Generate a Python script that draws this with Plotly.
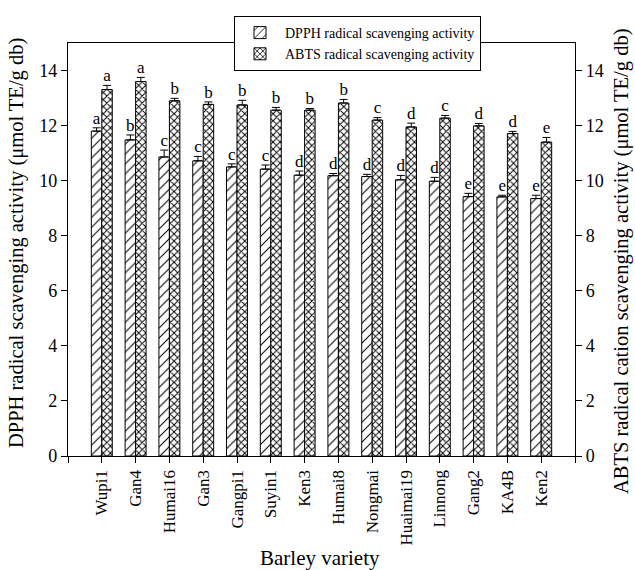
import plotly.graph_objects as go

varieties = ["Wupi1", "Gan4", "Humai16", "Gan3", "Gangpi1", "Suyin1", "Ken3", "Humai8",
             "Nongmai", "Huaimai19", "Linnong", "Gang2", "KA4B", "Ken2"]
dpph = [11.80, 11.48, 10.86, 10.72, 10.50, 10.42, 10.20, 10.18, 10.15, 10.03, 9.98, 9.42, 9.41, 9.35]
dpph_err = [0.12, 0.18, 0.25, 0.16, 0.11, 0.15, 0.15, 0.08, 0.08, 0.16, 0.14, 0.12, 0.06, 0.12]
abts = [13.31, 13.60, 12.90, 12.77, 12.75, 12.56, 12.56, 12.82, 12.20, 11.95, 12.27, 11.99, 11.71, 11.40]
abts_err = [0.15, 0.15, 0.09, 0.09, 0.17, 0.10, 0.06, 0.13, 0.09, 0.14, 0.10, 0.09, 0.08, 0.17]
dpph_letters = ["a", "b", "c", "c", "c", "c", "d", "d", "d", "d", "d", "e", "e", "e"]
abts_letters = ["a", "a", "b", "b", "b", "b", "b", "b", "c", "d", "c", "d", "d", "e"]
yticks = [0, 2, 4, 6, 8, 10, 12, 14]

FONT = "Liberation Serif"
xs = list(range(len(varieties)))
bw = 0.31

fig = go.Figure()
fig.add_trace(go.Bar(
    x=xs, y=dpph, name="DPPH radical scavenging activity",
    marker=dict(color="white", line=dict(color="black", width=1),
                pattern=dict(shape="/", fgcolor="black", bgcolor="white", size=7, solidity=0.15)),
    error_y=dict(type="data", symmetric=False, array=dpph_err, arrayminus=[0]*len(dpph),
                 color="black", thickness=1, width=4),
))
fig.add_trace(go.Bar(
    x=xs, y=abts, name="ABTS radical scavenging activity",
    marker=dict(color="white", line=dict(color="black", width=1),
                pattern=dict(shape="x", fgcolor="black", bgcolor="white", size=5, solidity=0.35)),
    error_y=dict(type="data", symmetric=False, array=abts_err, arrayminus=[0]*len(abts),
                 color="black", thickness=1, width=4),
))
fig.add_trace(go.Scatter(
    x=[i - bw / 2 for i in xs], y=[v + e for v, e in zip(dpph, dpph_err)],
    mode="text", text=dpph_letters, textposition="top center",
    textfont=dict(family=FONT, size=17, color="black"), showlegend=False, hoverinfo="skip"))
fig.add_trace(go.Scatter(
    x=[i + bw / 2 for i in xs], y=[v + e for v, e in zip(abts, abts_err)],
    mode="text", text=abts_letters, textposition="top center",
    textfont=dict(family=FONT, size=17, color="black"), showlegend=False, hoverinfo="skip"))
fig.add_trace(go.Scatter(x=[0], y=[0], yaxis="y2", mode="markers",
                         marker=dict(opacity=0), showlegend=False, hoverinfo="skip"))

tickvals = [-1] + xs + [14]
ticktext = [""] + varieties + [""]

# plot area in page pixels (page body margin removed below)
pl, pr, pt, pb = 68, 575, 43, 456
W, H = 635, 570
def px_to_paper_x(px):
    return (px - pl) / (pr - pl)
def px_to_paper_y(py):
    return (pb - py) / (pb - pt)

title_font = dict(family=FONT, size=20.5, color="black")

fig.update_layout(
    template="none",
    width=W, height=H,
    margin=dict(l=pl, r=W - pr, t=pt, b=H - pb, autoexpand=False),
    paper_bgcolor="white", plot_bgcolor="white",
    font=dict(family=FONT, size=17, color="black"),
    barmode="group", bargap=0.38, bargroupgap=0,
    xaxis=dict(range=[-1, 14], tickvals=tickvals, ticktext=ticktext, tickangle=-90,
               ticks="outside", ticklen=6, tickcolor="black", showline=True, linecolor="black",
               linewidth=1.3, mirror=True, showgrid=False, zeroline=False, automargin=False,
               tickfont=dict(family=FONT, size=17, color="black")),
    yaxis=dict(range=[0, 15], tickvals=yticks, ticks="outside", ticklen=6,
               tickcolor="black", showline=True, linecolor="black", linewidth=1.3,
               showgrid=False, zeroline=False, automargin=False,
               tickfont=dict(family=FONT, size=18, color="black")),
    yaxis2=dict(range=[0, 15], tickvals=yticks, overlaying="y", side="right",
                ticks="outside", ticklen=6, tickcolor="black", showline=True, linecolor="black",
                linewidth=1.3, showgrid=False, zeroline=False, automargin=False,
                tickfont=dict(family=FONT, size=18, color="black")),
    legend=dict(x=px_to_paper_x(234), y=px_to_paper_y(16), xanchor="left", yanchor="top",
                bgcolor="white", bordercolor="black", borderwidth=1,
                font=dict(family=FONT, size=14, color="black"), itemwidth=40),
    showlegend=True,
    annotations=[
        dict(text="Barley variety", x=px_to_paper_x(320), y=px_to_paper_y(558),
             xref="paper", yref="paper", xanchor="center", yanchor="middle",
             showarrow=False, font=dict(family=FONT, size=21, color="black")),
        dict(text="DPPH radical scavenging activity (μmol TE/g db)",
             x=px_to_paper_x(17), y=px_to_paper_y(243), xref="paper", yref="paper",
             xanchor="center", yanchor="middle",
             showarrow=False, textangle=-90, font=title_font),
        dict(text="ABTS radical cation scavenging activity (μmol TE/g db)",
             x=px_to_paper_x(621), y=px_to_paper_y(262), xref="paper", yref="paper",
             xanchor="center", yanchor="middle",
             showarrow=False, textangle=-90, font=title_font),
    ],
)

fig.write_html("out.html", config={"displayModeBar": False},
               post_script="document.body.style.margin='0';document.body.style.overflow='hidden';")
